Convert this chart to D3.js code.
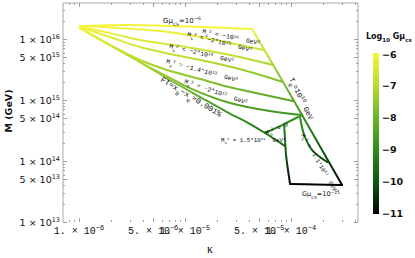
<!DOCTYPE html>
<html>
<head>
<meta charset="utf-8">
<script src="https://cdn.jsdelivr.net/npm/d3@7"></script>
<style>
body { margin: 0; background: #fff; }
svg { display: block; }
text { font-family: "DejaVu Sans", sans-serif; fill: #111; }
.lab { font-family: "Liberation Mono", monospace; white-space: pre; }
</style>
</head>
<body>
<div id="chart"></div>
<script>
var width = 415, height = 258;
var plotL = 63, plotR = 358, plotT = 3, plotB = 222;

// axis ranges
var kappaRange = [7.06e-7, 4.28e-4];
var mRange = [1e13, 3.9e16];

// colour bar: Log10 G mu_cs
var gmuTicks = [-6, -7, -8, -9, -10, -11];
var gmuColors = ["#f4f43c", "#b9dc34", "#6db42a", "#2f8c1c", "#0e580e", "#000000"];
// M where the string tension reaches the ends of the colour range
var mAtGmuTop = 1.55e16, mAtGmuBottom = 4.1e13;

// curves, points are [kappa, M (GeV)]
var gmuTopLine = [[1.02e-6, 1.63e16], [3.03e-6, 1.70e16], [1.11e-5, 1.60e16], [4.29e-5, 1.46e16]];
var trLine = [[4.29e-5, 1.46e16], [8.41e-5, 1.97e15], [1.27e-4, 5.68e14], [1.96e-4, 1.51e14], [3.03e-4, 4.04e13]];
var ms1e16 = [[1.02e-6, 1.63e16], [2.44e-6, 1.51e16], [5.81e-6, 1.35e16], [1.39e-5, 1.08e16], [2.66e-5, 8.60e15], [5.56e-5, 6.60e15]];
var ms2e15 = [[1.02e-6, 1.57e16], [1.96e-6, 1.25e16], [3.76e-6, 9.63e15], [8.97e-6, 7.68e15], [2.66e-5, 5.47e15], [6.77e-5, 3.75e15]];
var ms2e14 = [[1.02e-6, 1.57e16], [1.96e-6, 1.08e16], [3.76e-6, 7.39e15], [7.22e-6, 5.68e15], [1.72e-5, 4.20e15], [3.53e-5, 3.10e15], [8.41e-5, 1.97e15]];
var ms14e13 = [[1.02e-6, 1.51e16], [1.96e-6, 7.97e15], [3.76e-6, 4.53e15], [6.77e-6, 3.10e15], [1.39e-5, 2.21e15], [2.84e-5, 1.57e15], [1.04e-4, 9.63e14]];
var ms2e12 = [[1.02e-6, 1.51e16], [1.96e-6, 7.97e15], [3.76e-6, 4.20e15], [7.22e-6, 2.30e15], [1.11e-5, 1.57e15], [2.66e-5, 8.93e14], [6.34e-5, 6.60e14], [1.27e-4, 5.68e14]];
var ftLine = [[1.02e-6, 1.51e16], [1.96e-6, 7.97e15], [3.76e-6, 4.20e15], [7.22e-6, 2.13e15], [1.39e-5, 1.12e15], [2.49e-5, 6.36e14], [4.11e-5, 4.04e14], [5.69e-5, 2.88e14], [8.78e-5, 1.76e14]];
var ms0 = [[5.69e-5, 2.88e14], [8.59e-5, 4.04e14], [1.27e-4, 5.68e14]];
var ms15e11 = [[8.59e-5, 4.04e14], [8.78e-5, 2.21e14], [8.97e-5, 1.25e14], [9.79e-5, 4.20e13]];
var ms11e12 = [[1.22e-4, 5.07e14], [1.33e-4, 2.67e14], [1.58e-4, 1.51e14], [2.19e-4, 9.64e13]];
var gmuBottomLine = [[9.79e-5, 4.20e13], [1.70e-4, 4.12e13], [3.03e-4, 4.04e13]];

var curves = [gmuTopLine, trLine, ms1e16, ms2e15, ms2e14, ms14e13, ms2e12, ftLine, ms0, ms15e11, ms11e12, gmuBottomLine];

var svg = d3.select("#chart").append("svg")
	.attr("width", width)
	.attr("height", height);

var x = d3.scaleLog().domain(kappaRange).range([plotL, plotR]);
var y = d3.scaleLog().domain(mRange).range([plotB, plotT]);
var color = d3.scaleLinear().domain(gmuTicks).range(gmuColors);

var defs = svg.append("defs");

// gradient for the curves, colour follows G mu which tracks M
var grad = defs.append("linearGradient")
	.attr("id", "gmuGrad")
	.attr("gradientUnits", "userSpaceOnUse")
	.attr("x1", 0).attr("x2", 0)
	.attr("y1", y(mAtGmuTop))
	.attr("y2", y(mAtGmuBottom));
gmuTicks.forEach(function(t, i) {
	grad.append("stop")
		.attr("offset", i / (gmuTicks.length - 1))
		.attr("stop-color", color(t));
});

var barGrad = defs.append("linearGradient")
	.attr("id", "barGrad")
	.attr("x1", 0).attr("x2", 0).attr("y1", 0).attr("y2", 1);
gmuTicks.forEach(function(t, i) {
	barGrad.append("stop")
		.attr("offset", i / (gmuTicks.length - 1))
		.attr("stop-color", color(t));
});

// frame (no bottom line, as in the original)
var frame = svg.append("g").attr("stroke", "#a8a8a8").attr("stroke-width", 1).attr("fill", "none");
frame.append("line").attr("x1", plotL).attr("x2", plotL).attr("y1", plotT).attr("y2", plotB);
frame.append("line").attr("x1", plotR).attr("x2", plotR).attr("y1", plotT).attr("y2", plotB);
frame.append("line").attr("x1", plotL).attr("x2", plotR).attr("y1", plotT).attr("y2", plotT);

function logTicks(range) {
	var out = [];
	var lo = Math.floor(Math.log10(range[0])), hi = Math.ceil(Math.log10(range[1]));
	for (var d = lo; d <= hi; d++) {
		for (var m = 1; m <= 9; m++) {
			var v = m * Math.pow(10, d);
			if (v >= range[0] * 0.999 && v <= range[1] * 1.001) out.push({v: v, m: m, d: d});
		}
	}
	return out;
}

var xt = logTicks(kappaRange), yt = logTicks(mRange);
var tg = svg.append("g").attr("stroke", "#a0a0a0").attr("stroke-width", 1);
xt.forEach(function(t) {
	var len = (t.m == 1 || t.m == 5) ? 4 : 2;
	var px = Math.round(x(t.v)) + 0.5;
	tg.append("line").attr("x1", px).attr("x2", px).attr("y1", plotB).attr("y2", plotB - len);
	tg.append("line").attr("x1", px).attr("x2", px).attr("y1", plotT).attr("y2", plotT + len);
});
yt.forEach(function(t) {
	var len = (t.m == 1 || t.m == 5) ? 4 : 2;
	var py = Math.round(y(t.v)) + 0.5;
	tg.append("line").attr("x1", plotL).attr("x2", plotL + len).attr("y1", py).attr("y2", py);
	tg.append("line").attr("x1", plotR).attr("x2", plotR - len).attr("y1", py).attr("y2", py);
});

function sup(sel, s, size) {
	sel.append("tspan").attr("baseline-shift", "super").attr("font-size", size).text(s);
}
function sub(sel, s, size) {
	sel.append("tspan").attr("baseline-shift", "sub").attr("font-size", size).text(s);
}

// tick labels
xt.filter(function(t) { return t.m == 1 || t.m == 5; }).forEach(function(t) {
	var tx = svg.append("text")
		.attr("x", x(t.v)).attr("y", 234)
		.attr("text-anchor", "middle")
		.style("font-family", "Liberation Mono, monospace")
		.attr("font-size", 10);
	tx.append("tspan").text(t.m + ". \u00d7 10");
	sup(tx, "\u2212" + (-t.d), 7);
});
yt.filter(function(t) { return t.m == 1 || t.m == 5; }).forEach(function(t) {
	var tx = svg.append("text")
		.attr("x", 60).attr("y", y(t.v) + 3.5)
		.attr("text-anchor", "end")
		.attr("font-size", 9.5);
	tx.append("tspan").text(t.m + " \u00d7 10");
	sup(tx, String(t.d), 6.5);
});

// axis titles
svg.append("text")
	.attr("transform", "translate(12," + 111 + ") rotate(-90)")
	.attr("text-anchor", "middle")
	.attr("font-size", 9.5).attr("font-weight", "bold")
	.text("M (GeV)");
svg.append("text")
	.attr("x", 210).attr("y", 253)
	.attr("text-anchor", "middle")
	.style("font-family", "Liberation Serif, serif")
	.attr("font-size", 12)
	.text("\u03ba");

// curves
var line = d3.line()
	.x(function(d) { return x(d[0]); })
	.y(function(d) { return y(d[1]); })
	.curve(d3.curveCatmullRom.alpha(0.5));

svg.append("g").selectAll("path")
	.data(curves)
	.enter()
	.append("path")
	.attr("d", line)
	.attr("fill", "none")
	.attr("stroke", "url(#gmuGrad)")
	.attr("stroke-width", 2)
	.attr("stroke-linejoin", "round")
	.attr("stroke-linecap", "round");

// curve labels
function msLabel(px, py, rot, value, size) {
	size = size || 6.3;
	var t = svg.append("text")
		.attr("class", "lab")
		.attr("transform", "translate(" + px + "," + py + ") rotate(" + rot + ")")
		.attr("font-size", size);
	t.append("tspan").text("M");
	sub(t, "s", size * 0.7);
	sup(t, "2", size * 0.7);
	t.append("tspan").text(" = " + value[0]);
	if (value[1]) sup(t, value[1], size * 0.7);
	if (value[2] !== undefined) {
		t.append("tspan").text("  GeV");
		sup(t, "2", size * 0.7);
	}
	return t;
}

msLabel(202, 33, 12, ["\u221210", "16", 1]);
msLabel(187, 36, 14, ["\u22122*10", "15", 1]);
msLabel(169, 48, 13, ["\u22122*10", "14", 1]);
msLabel(166, 63, 15, ["\u22121.4*10", "13", 1]);
msLabel(184, 83, 19, ["\u22122*10", "12", 1]);
msLabel(266, 135, -22, ["0"]);
msLabel(221, 142, 0, ["1.5*10", "11", 1], 5.8);
msLabel(301, 135, 60, ["\u22121.1*10", "12", 1], 5.8);

var ft = svg.append("text")
	.attr("class", "lab")
	.attr("transform", "translate(160,81) rotate(31)")
	.attr("font-size", 8);
ft.append("tspan").text("FT\u2248x");
sub(ft, "0", 6);
ft.append("tspan").text("\u2212x");
sub(ft, "e", 6);
ft.append("tspan").text("\u22480.001%");

var tr = svg.append("text")
	.attr("class", "lab")
	.attr("transform", "translate(289,79) rotate(64)")
	.attr("font-size", 7.5);
tr.append("tspan").text("T");
sub(tr, "R", 5.5);
tr.append("tspan").text("=10");
sup(tr, "10", 5.5);
tr.append("tspan").text(" GeV");

function gmuLabel(px, py, exp, size) {
	var t = svg.append("text")
		.attr("x", px).attr("y", py)
		.attr("font-size", size)
		.attr("fill", "#333");
	t.append("tspan").text("G\u03bc");
	sub(t, "CS", size * 0.65);
	t.append("tspan").text("=10");
	sup(t, exp, size * 0.7);
}
gmuLabel(163, 23, "\u22126", 7);
gmuLabel(302, 196, "\u221211", 6.5);

// colour bar
var barTop = 53, barBottom = 214, barX = 373;
svg.append("rect")
	.attr("x", barX).attr("y", barTop)
	.attr("width", 6).attr("height", barBottom - barTop)
	.attr("fill", "url(#barGrad)");
var bar = d3.scaleLinear().domain([-6, -11]).range([barTop + 1, barBottom - 1]);
gmuTicks.forEach(function(t) {
	svg.append("text")
		.attr("x", 382).attr("y", bar(t) + 3.5)
		.attr("font-size", 9.5).attr("font-weight", "bold")
		.text("\u2212" + (-t));
});
var bt = svg.append("text")
	.attr("x", 366).attr("y", 39)
	.attr("font-size", 8).attr("font-weight", "bold");
bt.append("tspan").text("Log");
sub(bt, "10", 5.5);
bt.append("tspan").text(" G\u03bc");
sub(bt, "cs", 5.5);
</script>
</body>
</html>
